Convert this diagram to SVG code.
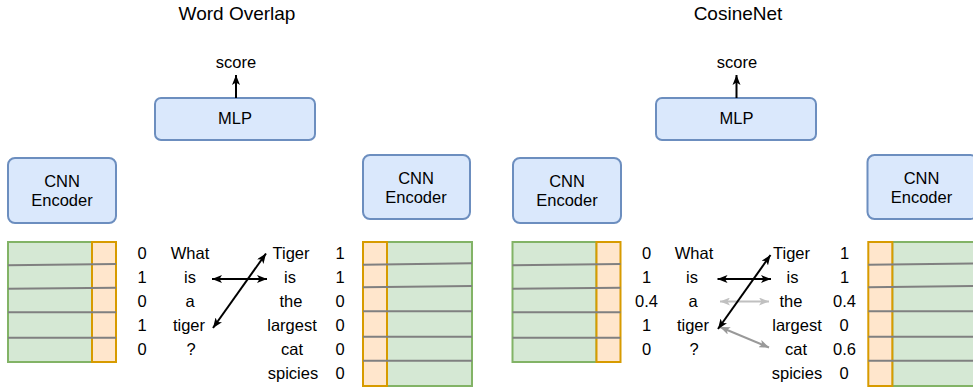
<svg xmlns="http://www.w3.org/2000/svg" width="973" height="388" viewBox="0 0 973 388">
<defs>
<style>
text{font-family:"Liberation Sans",Arial,Helvetica,sans-serif;fill:#000;text-anchor:middle}
.t{font-size:19px}
.b{font-size:16.5px}
.box{fill:#dae8fc;stroke:#6c8ebf;stroke-width:2}
.g{fill:#d5e8d4;stroke:#82b366;stroke-width:2}
.o{fill:#ffe6cc;stroke:#d79b00;stroke-width:2}
.row{stroke:#808080;stroke-width:2;fill:none}
.ab{stroke:#000;stroke-width:2;fill:none;marker-start:url(#hb);marker-end:url(#hb)}
.al{stroke:#c0c0c0;stroke-width:2;fill:none;marker-start:url(#hl);marker-end:url(#hl)}
.am{stroke:#999;stroke-width:2;fill:none;marker-start:url(#hm);marker-end:url(#hm)}
.sc{stroke:#000;stroke-width:2;fill:none;marker-end:url(#hs)}
</style>
<marker id="hb" markerUnits="userSpaceOnUse" viewBox="0 0 10 8" refX="10" refY="4" markerWidth="10" markerHeight="8" orient="auto-start-reverse"><path d="M0,0 L10,4 L0,8 L2.5,4 Z" fill="#000"/></marker>
<marker id="hl" markerUnits="userSpaceOnUse" viewBox="0 0 10 8" refX="10" refY="4" markerWidth="10" markerHeight="8" orient="auto-start-reverse"><path d="M0,0 L10,4 L0,8 L2.5,4 Z" fill="#c0c0c0"/></marker>
<marker id="hm" markerUnits="userSpaceOnUse" viewBox="0 0 10 8" refX="10" refY="4" markerWidth="10" markerHeight="8" orient="auto-start-reverse"><path d="M0,0 L10,4 L0,8 L2.5,4 Z" fill="#999"/></marker>
<marker id="hs" markerUnits="userSpaceOnUse" viewBox="0 0 10 8" refX="10" refY="4" markerWidth="10" markerHeight="9" orient="auto"><path d="M0,0 L10,4 L0,8 L2.5,4 Z" fill="#000"/></marker>
</defs>

<!-- ===== Word Overlap panel ===== -->
<text class="t" x="237" y="20">Word Overlap</text>
<g id="wo-score"><text class="b" x="236" y="68">score</text></g>
<g id="wo-mlp"><rect class="box" x="155" y="98" width="160" height="42" rx="6"/><text class="b" x="235" y="124">MLP</text></g>
<g id="wo-enc-left"><rect class="box" x="8" y="158" width="108" height="65" rx="7"/><text class="b" x="62" y="187">CNN</text><text class="b" x="62" y="206">Encoder</text></g>
<g id="wo-enc-right"><rect class="box" x="363" y="155" width="107" height="64" rx="7"/><text class="b" x="416" y="184">CNN</text><text class="b" x="416" y="203">Encoder</text></g>
<g id="wo-mat-left">
<rect class="g" x="8" y="242" width="84" height="120"/>
<rect class="o" x="92" y="242" width="24" height="120"/>
<path class="row" d="M8,265.3 L116,264 M8,288.7 L116,287.7 M8,312.3 L116,312.3 M8,337.7 L116,337.7"/>
</g>
<g id="wo-mat-right">
<rect class="g" x="387" y="242" width="85" height="144"/>
<rect class="o" x="363" y="242" width="24" height="144"/>
<path class="row" d="M363,264.7 L472,263.3 M363,287.3 L472,286 M363,311.3 L472,311.3 M363,336.7 L472,336.7 M363,360.7 L472,360.7"/>
</g>
<g id="wo-q">
<text class="b" x="142" y="259">0</text><text class="b" x="190" y="259">What</text>
<text class="b" x="142" y="283">1</text><text class="b" x="190" y="283">is</text>
<text class="b" x="142" y="307">0</text><text class="b" x="190" y="307">a</text>
<text class="b" x="142" y="331">1</text><text class="b" x="189" y="331">tiger</text>
<text class="b" x="142" y="355">0</text><text class="b" x="191" y="355">?</text>
</g>
<g id="wo-a">
<text class="b" x="291" y="259">Tiger</text><text class="b" x="340" y="259">1</text>
<text class="b" x="290" y="283">is</text><text class="b" x="340" y="283">1</text>
<text class="b" x="291" y="307">the</text><text class="b" x="340" y="307">0</text>
<text class="b" x="292" y="331">largest</text><text class="b" x="340" y="331">0</text>
<text class="b" x="292" y="355">cat</text><text class="b" x="340" y="355">0</text>
<text class="b" x="293" y="379">spicies</text><text class="b" x="340" y="379">0</text>
</g>

<!-- ===== CosineNet panel ===== -->
<text class="t" x="738" y="20">CosineNet</text>
<g id="cn-score"><text class="b" x="737" y="68">score</text></g>
<g id="cn-mlp"><rect class="box" x="656" y="98" width="160" height="42" rx="6"/><text class="b" x="736.5" y="124">MLP</text></g>
<g id="cn-enc-left"><rect class="box" x="513" y="158" width="108" height="65" rx="7"/><text class="b" x="567" y="187">CNN</text><text class="b" x="567" y="206">Encoder</text></g>
<g id="cn-enc-right"><rect class="box" x="867.5" y="155" width="110" height="64" rx="7"/><text class="b" x="921.5" y="184">CNN</text><text class="b" x="921.5" y="203">Encoder</text></g>
<g id="cn-mat-left">
<rect class="g" x="512.5" y="242" width="84" height="120"/>
<rect class="o" x="596.5" y="242" width="24" height="120"/>
<path class="row" d="M512.5,265.3 L620.5,264 M512.5,288.7 L620.5,287.7 M512.5,312.3 L620.5,312.3 M512.5,337.7 L620.5,337.7"/>
</g>
<g id="cn-mat-right">
<rect class="g" x="892.3" y="242" width="90" height="144"/>
<rect class="o" x="868.3" y="242" width="24" height="144"/>
<path class="row" d="M868.3,264.7 L980,263.3 M868.3,287.3 L980,286 M868.3,311.3 L980,311.3 M868.3,336.7 L980,336.7 M868.3,360.7 L980,360.7"/>
</g>
<g id="cn-q">
<text class="b" x="646.5" y="259">0</text><text class="b" x="694" y="259">What</text>
<text class="b" x="646.5" y="283">1</text><text class="b" x="692" y="283">is</text>
<text class="b" x="646.5" y="307">0.4</text><text class="b" x="693" y="307">a</text>
<text class="b" x="646.5" y="331">1</text><text class="b" x="693" y="331">tiger</text>
<text class="b" x="646.5" y="355">0</text><text class="b" x="694" y="355">?</text>
</g>
<g id="cn-a">
<text class="b" x="791.5" y="259">Tiger</text><text class="b" x="844.5" y="259">1</text>
<text class="b" x="792.5" y="283">is</text><text class="b" x="844.5" y="283">1</text>
<text class="b" x="791" y="307">the</text><text class="b" x="844.5" y="307">0.4</text>
<text class="b" x="797" y="331">largest</text><text class="b" x="844" y="331">0</text>
<text class="b" x="796" y="355">cat</text><text class="b" x="844.5" y="355">0.6</text>
<text class="b" x="797" y="379">spicies</text><text class="b" x="844" y="379">0</text>
</g>

<!-- ===== connectors ===== -->
<g id="connectors">
<path class="sc" d="M236,98 L236,75"/>
<path class="sc" d="M736.5,98 L736.5,75"/>
<path class="ab" d="M212,279 L267,279"/>
<path class="ab" d="M213,328 L266,253.5"/>
<path class="al" d="M720,301.5 L769,301.5"/>
<path class="am" d="M720,327 L769,347.5"/>
<path class="ab" d="M717.5,279 L771,279"/>
<path class="ab" d="M718,329 L770.5,255"/>
</g>
</svg>
